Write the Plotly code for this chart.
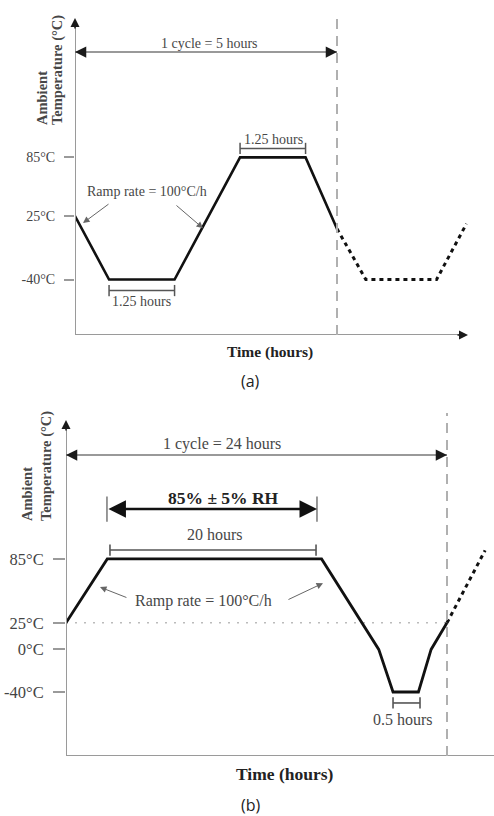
import plotly.graph_objects as go

# ---------------- data ----------------
# panel (a): 5-hour thermal cycle
a_time_solid = [0, 0.65, 1.9, 3.15, 4.4, 5.0]
a_temp_solid = [25, -40, -40, 85, 85, 12]
a_time_next = [5.0, 5.55, 6.9, 7.47]
a_temp_next = [12, -40, -40, 17]
a_tick_vals = [85, 25, -40]
a_tick_text = ["85°C", "25°C", "-40°C"]
a_cycle_hours = 5.0
a_low_dwell = [0.65, 1.9]
a_high_dwell = [3.15, 4.4]

# panel (b): 24-hour damp-heat / cold cycle (schematic time axis)
b_time_solid = [0, 2.6, 16.1, 19.7, 20.6, 22.2, 23.0, 24.0]
b_temp_solid = [25, 85, 85, 0, -40, -40, 0, 25]
b_time_next = [24.0, 26.4]
b_temp_next = [25, 93]
b_tick_vals = [85, 25, 0, -40]
b_tick_text = ["85°C", "25°C", "0°C", "-40°C"]
b_cycle_hours = 24.0
b_rh_span = [2.58, 15.81]
b_hot_dwell = [2.77, 15.75]
b_cold_dwell = [20.6, 22.3]

# ---------------- layout helpers ----------------
W, H = 494, 816
def px_x(p):
    return p / W
def px_y(p):
    return 1 - p / H

SERIF = "Liberation Serif"
TXT = "#474747"
AXC = "#9a9a9a"

A_YMIN, A_YMAX = -96.8, 235.9
B_YMIN, B_YMAX = -100.1, 226.7

fig = go.Figure()

# ---------- panel (a) traces ----------
fig.add_trace(go.Scatter(x=a_time_solid, y=a_temp_solid, mode="lines",
                         line=dict(color="#111111", width=2.6),
                         xaxis="x", yaxis="y", hoverinfo="skip"))
fig.add_trace(go.Scatter(x=a_time_next, y=a_temp_next, mode="lines",
                         line=dict(color="#111111", width=3, dash="4px,4px"),
                         xaxis="x", yaxis="y", hoverinfo="skip"))
for span, yv in [(a_low_dwell, -51.3), (a_high_dwell, 94.2)]:
    fig.add_trace(go.Scatter(x=span, y=[yv, yv], mode="lines+markers",
                             line=dict(color="#555555", width=1.5),
                             marker=dict(symbol="line-ns", size=8,
                                         line=dict(color="#555555", width=1.5)),
                             xaxis="x", yaxis="y", hoverinfo="skip"))

# ---------- panel (b) traces ----------
fig.add_trace(go.Scatter(x=[0, b_cycle_hours], y=[25, 25], mode="lines",
                         line=dict(color="#bbbbbb", width=1.5, dash="2px,7px"),
                         xaxis="x2", yaxis="y2", hoverinfo="skip"))
fig.add_trace(go.Scatter(x=b_time_solid, y=b_temp_solid, mode="lines",
                         line=dict(color="#111111", width=2.8),
                         xaxis="x2", yaxis="y2", hoverinfo="skip"))
fig.add_trace(go.Scatter(x=b_time_next, y=b_temp_next, mode="lines",
                         line=dict(color="#111111", width=3, dash="4px,4px"),
                         xaxis="x2", yaxis="y2", hoverinfo="skip"))
for span, yv in [(b_hot_dwell, 93.3), (b_cold_dwell, -50.3)]:
    fig.add_trace(go.Scatter(x=span, y=[yv, yv], mode="lines+markers",
                             line=dict(color="#555555", width=1.6),
                             marker=dict(symbol="line-ns", size=8,
                                         line=dict(color="#555555", width=1.6)),
                             xaxis="x2", yaxis="y2", hoverinfo="skip"))
fig.add_trace(go.Scatter(x=b_rh_span, y=[131.8, 131.8], mode="markers",
                         marker=dict(symbol="line-ns", size=18,
                                     line=dict(color="#777777", width=1.5)),
                         xaxis="x2", yaxis="y2", hoverinfo="skip"))

shapes = []
annotations = []

def arrow(x, y, ax, ay, xr, yr, color, width=1.5, head=2, size=1.0, side="end"):
    annotations.append(dict(x=x, y=y, ax=ax, ay=ay, xref=xr, yref=yr,
                            axref=xr, ayref=yr, text="", showarrow=True,
                            arrowhead=head, startarrowhead=head,
                            arrowsize=size, startarrowsize=size,
                            arrowwidth=width, arrowcolor=color,
                            arrowside=side, standoff=0, startstandoff=0))

def head(x, y, dx, dy, xr, yr, color="#1a1a1a", size=1.5, width=1.5):
    annotations.append(dict(x=x, y=y, xref=xr, yref=yr, ax=dx, ay=dy, text="",
                            showarrow=True, arrowhead=2, arrowsize=size,
                            arrowwidth=width, arrowcolor=color, standoff=0))

def text(x, y, s, xr, yr, size, bold=False, color=TXT, family=SERIF, angle=0,
         xanchor="center", yanchor="middle"):
    annotations.append(dict(x=x, y=y, xref=xr, yref=yr, showarrow=False,
                            text=("<b>%s</b>" % s) if bold else s,
                            font=dict(family=family, size=size, color=color),
                            textangle=angle, xanchor=xanchor, yanchor=yanchor))

def hline(x0, x1, y, xr, yr, color, width, dash=None):
    ln = dict(color=color, width=width)
    if dash:
        ln["dash"] = dash
    shapes.append(dict(type="line", xref=xr, yref=yr, x0=x0, x1=x1, y0=y, y1=y, line=ln))

def vline(x, y0, y1, xr, yr, color, width, dash=None):
    ln = dict(color=color, width=width)
    if dash:
        ln["dash"] = dash
    shapes.append(dict(type="line", xref=xr, yref=yr, x0=x, x1=x, y0=y0, y1=y1, line=ln))

# ---------- panel (a) decorations ----------
vline(0, A_YMIN, 222, "x", "y", AXC, 2)
hline(0, 7.4, A_YMIN, "x", "y", AXC, 2)
vline(a_cycle_hours, A_YMIN, 230.7, "x", "y", "#b0b0b0", 2, "10px,7px")
head(0, 227.7, 0, 12, "x", "y", size=1.2)
head(7.5, A_YMIN, -12, 0, "x", "y", size=1.2)
hline(0, a_cycle_hours, 192.9, "x", "y", "#777777", 1.5)
head(a_cycle_hours, 192.9, -12, 0, "x", "y")
head(0, 192.9, 12, 0, "x", "y")
arrow(0.153, 17.8, 0.668, 38.3, "x", "y", "#666666", width=1, head=2, size=1.3)
arrow(2.443, 12.5, 1.908, 37.1, "x", "y", "#666666", width=1, head=2, size=1.3)

text(2.56, 202, "1 cycle = 5 hours", "x", "y", 14)
text(1.27, -62.5, "1.25 hours", "x", "y", 14)
text(3.78, 103.4, "1.25 hours", "x", "y", 14)
text(1.374, 50.6, "Ramp rate = 100°C/h", "x", "y", 14)
text(px_x(270), px_y(352), "Time (hours)", "paper", "paper", 15.5, bold=True, color="#222222")
text(px_x(251), px_y(381), "(a)", "paper", "paper", 16, family="Open Sans", color="#222222")
text(px_x(42), px_y(127), "Ambient", "paper", "paper", 14.5, bold=True,
     angle=-90, yanchor="bottom")
text(px_x(57), px_y(127), "Temperature (°C)", "paper", "paper", 14.5, bold=True,
     angle=-90, yanchor="bottom")

# ---------- panel (b) decorations ----------
vline(0, B_YMIN, 210, "x2", "y2", AXC, 2)
hline(0, 26.96, B_YMIN, "x2", "y2", AXC, 2)
vline(b_cycle_hours, B_YMIN, 221.9, "x2", "y2", "#b0b0b0", 2, "10px,7px")
head(0, 215.4, 0, 12, "x2", "y2", size=1.2)
hline(0, b_cycle_hours, 182.5, "x2", "y2", "#777777", 1.5)
head(b_cycle_hours, 182.5, -12, 0, "x2", "y2")
head(0, 182.5, 12, 0, "x2", "y2")
arrow(b_rh_span[1], 131.8, b_rh_span[0], 131.8, "x2", "y2", "#111111", width=2.5,
      head=2, size=1.4, side="end+start")
arrow(2.14, 58.5, 3.9, 48.2, "x2", "y2", "#666666", width=1, head=2, size=1.3)
arrow(16.19, 62.2, 13.92, 46.2, "x2", "y2", "#666666", width=1, head=2, size=1.3)

text(9.83, 192.9, "1 cycle = 24 hours", "x2", "y2", 16)
text(9.89, 142.1, "85% ± 5% RH", "x2", "y2", 17.5, bold=True, color="#222222")
text(9.39, 108.3, "20 hours", "x2", "y2", 16)
text(8.63, 45.4, "Ramp rate = 100°C/h", "x2", "y2", 16)
text(21.23, -65.5, "0.5 hours", "x2", "y2", 16)
text(px_x(285), px_y(774), "Time (hours)", "paper", "paper", 17.5, bold=True, color="#222222")
text(px_x(251), px_y(805), "(b)", "paper", "paper", 16, family="Open Sans", color="#222222")
text(px_x(27), px_y(523), "Ambient", "paper", "paper", 14.5, bold=True,
     angle=-90, yanchor="bottom")
text(px_x(46), px_y(523), "Temperature (°C)", "paper", "paper", 14.5, bold=True,
     angle=-90, yanchor="bottom")

common_x = dict(showgrid=False, zeroline=False, showticklabels=False, ticks="",
                showline=False, fixedrange=True)
fig.update_layout(
    width=W, height=H,
    margin=dict(l=0, r=0, t=0, b=0),
    paper_bgcolor="white", plot_bgcolor="white",
    showlegend=False,
    xaxis=dict(domain=[px_x(75), px_x(475)], range=[0, 400 / 52.4], anchor="y", **common_x),
    yaxis=dict(domain=[px_y(335), px_y(10)], range=[A_YMIN, A_YMAX], anchor="x",
               showgrid=False, zeroline=False, showline=False,
               tickvals=a_tick_vals, ticktext=a_tick_text,
               ticks="outside", ticklen=10, tickwidth=1.5, tickcolor=AXC,
               ticklabelstandoff=6,
               tickfont=dict(family=SERIF, size=14, color="#444444")),
    xaxis2=dict(domain=[px_x(66), 1.0], range=[0, 428 / 15.875], anchor="y2", **common_x),
    yaxis2=dict(domain=[px_y(756), px_y(408)], range=[B_YMIN, B_YMAX], anchor="x2",
                showgrid=False, zeroline=False, showline=False,
                tickvals=b_tick_vals, ticktext=b_tick_text,
                ticks="outside", ticklen=12, tickwidth=1.5, tickcolor=AXC,
                ticklabelstandoff=6,
                tickfont=dict(family=SERIF, size=16.5, color="#444444")),
    shapes=shapes,
    annotations=annotations,
)

fig.write_html("out.html")
